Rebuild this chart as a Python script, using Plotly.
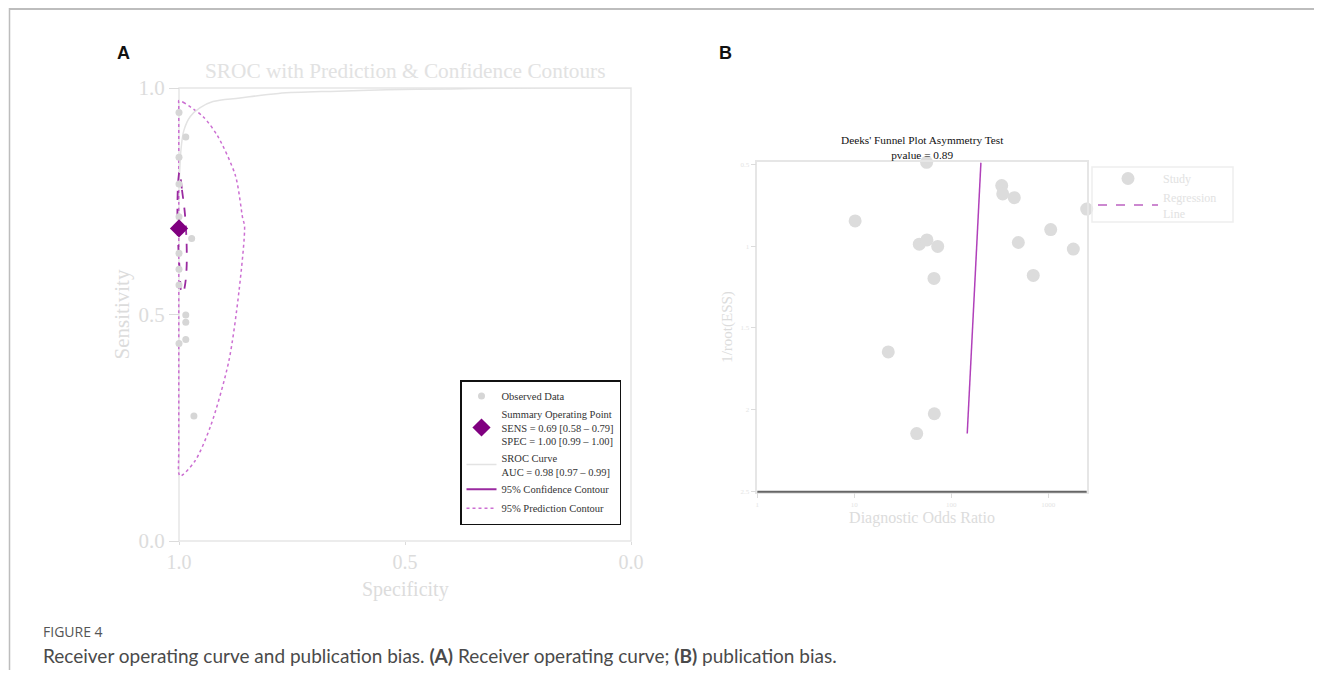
import plotly.graph_objects as go

# page body has an 8px margin: figure is sized to fit the window inside it
OFF = 8
W, H = 1322 - OFF, 683 - OFF

# ---------------- Panel A data ----------------
obs_spec = [1.0, 1.0, 1.0, 1.0, 1.0, 1.0, 1.0, 1.0, 0.985, 0.972, 0.985, 0.985, 0.985, 0.967]
obs_sens = [0.946, 0.847, 0.788, 0.716, 0.635, 0.600, 0.565, 0.436, 0.892, 0.668, 0.499, 0.483, 0.445, 0.276]

sum_spec = [1.00]
sum_sens = [0.69]

sroc_spec = [1.0, 0.998, 0.995, 0.989, 0.975, 0.954, 0.925, 0.865, 0.78, 0.65, 0.54, 0.40, 0.30, 0.15, 0.0]
sroc_sens = [0.78, 0.826, 0.87, 0.907, 0.937, 0.956, 0.970, 0.978, 0.988, 0.993, 0.996, 0.998, 0.9995, 1.0, 1.0]

conf_spec = [0.9989, 0.9934, 0.9867, 0.9830, 0.9834, 0.9867, 0.9912, 0.9956, 0.9978, 1.0011, 1.0033, 1.0033, 1.0015, 0.9989]
conf_sens = [0.815, 0.775, 0.720, 0.650, 0.598, 0.565, 0.547, 0.554, 0.587, 0.642, 0.698, 0.753, 0.797, 0.815]

pred_spec = [1.0005, 0.990, 0.946, 0.914, 0.875, 0.859, 0.855, 0.867, 0.890, 0.930, 0.965, 0.997,
             1.0005, 1.0005, 1.0005, 1.0005, 1.0005]
pred_sens = [0.972, 0.968, 0.936, 0.893, 0.806, 0.712, 0.696, 0.554, 0.396, 0.254, 0.176, 0.143,
             0.150, 0.200, 0.900, 0.965, 0.972]

a_ticks = [0.0, 0.5, 1.0]
a_ticktext = ["0.0", "0.5", "1.0"]

# ---------------- Panel B data ----------------
dor = [55.7, 331, 339, 446, 2488, 10.2, 1059, 46.8, 56.1, 72.4, 491, 1811, 66.3, 700, 22.4, 66.8, 44.0]
inv_ess = [0.488, 0.630, 0.681, 0.704, 0.774, 0.846, 0.899, 0.988, 0.962, 1.002, 0.978, 1.018, 1.197, 1.179, 1.646, 2.024, 2.145]

reg_dor = [146, 202]
reg_ess = [2.145, 0.49]

b_xticks = [1, 10, 100, 1000]
b_xticktext = ["1", "10", "100", "1000"]
b_yticks = [0.5, 1.0, 1.5, 2.0, 2.5]
b_yticktext = ["0.5", "1", "1.5", "2", "2.5"]


def px(x):
    return (x - OFF) / W


def py(y):
    return 1 - (y - OFF) / H


LIGHT = "#dcdcdc"
SERIF = "Liberation Serif"
FRAME = "#e6e6e6"

# panel A pixel box
AX0, AX1, AY0, AY1 = 179, 631, 88, 541
EXT = 8  # px of extra room left of the axis so contours are not clipped there

fig = go.Figure()

# Panel A traces
fig.add_trace(go.Scatter(x=pred_spec, y=pred_sens, mode="lines",
                         line=dict(color="#cc6fd2", width=1.5, dash="dot", shape="spline", smoothing=0.8),
                         showlegend=False, xaxis="x", yaxis="y", hoverinfo="skip"))
fig.add_trace(go.Scatter(x=sroc_spec, y=sroc_sens, mode="lines", line=dict(color="#e3e3e3", width=1.5, shape="spline"),
                         name="SROC Curve<br>AUC = 0.98 [0.97 – 0.99]", legendrank=3, legend="legend",
                         xaxis="x", yaxis="y"))
fig.add_trace(go.Scatter(x=conf_spec, y=conf_sens, mode="lines", line=dict(color="#9a2aa0", width=1.8, dash="dash", shape="spline"),
                         showlegend=False, xaxis="x", yaxis="y"))
fig.add_trace(go.Scatter(x=[None], y=[None], mode="lines", line=dict(color="#9a2aa0", width=1.8),
                         name="95% Confidence Contour", legendrank=4, legend="legend", xaxis="x", yaxis="y"))
fig.add_trace(go.Scatter(x=[None], y=[None], mode="lines", line=dict(color="#cc6fd2", width=1.5, dash="dot"),
                         name="95% Prediction Contour", legendrank=5, legend="legend", xaxis="x", yaxis="y"))
fig.add_trace(go.Scatter(x=obs_spec, y=obs_sens, mode="markers", marker=dict(color="#d6d6d6", size=7),
                         name="Observed Data", legendrank=1, legend="legend", cliponaxis=False,
                         xaxis="x", yaxis="y"))
fig.add_trace(go.Scatter(x=sum_spec, y=sum_sens, mode="markers", marker=dict(color="#800080", size=14, symbol="diamond"),
                         name="Summary Operating Point<br>SENS = 0.69 [0.58 – 0.79]<br>SPEC = 1.00 [0.99 – 1.00]",
                         legendrank=2, legend="legend", cliponaxis=False, xaxis="x", yaxis="y"))

# Panel B traces
fig.add_trace(go.Scatter(x=dor, y=inv_ess, mode="markers", marker=dict(color="#dcdcdc", size=13),
                         name="Study", legend="legend2", legendrank=1, cliponaxis=False, xaxis="x2", yaxis="y2"))
fig.add_trace(go.Scatter(x=reg_dor, y=reg_ess, mode="lines", line=dict(color="#b040ba", width=1.5),
                         showlegend=False, xaxis="x2", yaxis="y2"))
fig.add_trace(go.Scatter(x=[None], y=[None], mode="lines", line=dict(color="#cc88d0", width=2, dash="dash"),
                         name="Regression<br>Line", legend="legend2", legendrank=2, xaxis="x2", yaxis="y2"))

tick_common = dict(showgrid=False, zeroline=False, ticks="outside", tickcolor="#dcdcdc", automargin=False)
axis_common = dict(showline=True, mirror=True, linecolor=FRAME, linewidth=1.5, **tick_common)

fig.update_layout(
    width=W, height=H, margin=dict(l=0, r=0, t=0, b=0, autoexpand=False), paper_bgcolor="white", plot_bgcolor="white",
    xaxis=dict(domain=[px(AX0 - EXT), px(AX1)], range=[1 + EXT / (AX1 - AX0), 0], tickvals=a_ticks,
               ticktext=a_ticktext, ticklen=3, showline=False,
               tickfont=dict(family=SERIF, size=20, color=LIGHT), anchor="y",
               **tick_common),
    yaxis=dict(domain=[py(AY1), py(AY0)], range=[0, 1], tickvals=a_ticks, ticktext=a_ticktext, ticklen=10,
               showline=False, anchor="free", position=px(AX0),
               tickfont=dict(family=SERIF, size=21, color=LIGHT),
               title=dict(text="Sensitivity", font=dict(family=SERIF, size=21, color=LIGHT), standoff=2),
               **tick_common),
    xaxis2=dict(domain=[px(757.3), px(1086.7)], type="log", range=[0, 3.396], tickvals=b_xticks, ticktext=b_xticktext,
                ticklen=5, tickfont=dict(family=SERIF, size=7, color="#e4e4e4"), anchor="y2",
                title=dict(text="Diagnostic Odds Ratio", font=dict(family=SERIF, size=16, color=LIGHT), standoff=2),
                **axis_common),
    yaxis2=dict(domain=[py(491.7), py(162.3)], range=[2.5, 0.488], tickvals=b_yticks, ticktext=b_yticktext,
                ticklen=5, tickfont=dict(family=SERIF, size=7, color="#e4e4e4"), anchor="x2",
                title=dict(text="1/root(ESS)", font=dict(family=SERIF, size=15, color=LIGHT), standoff=4),
                **axis_common),
    legend=dict(x=px(460), y=py(380), xanchor="left", yanchor="top", bgcolor="white", bordercolor="#111",
                borderwidth=1.5, font=dict(family=SERIF, size=10.5, color="#333"), tracegroupgap=10,
                itemwidth=30, traceorder="normal"),
    legend2=dict(x=px(1093), y=py(164), xanchor="left", yanchor="top", bgcolor="rgba(0,0,0,0)",
                 borderwidth=0, font=dict(family=SERIF, size=12, color="#e2e2e2"), itemwidth=60,
                 tracegroupgap=0),
    showlegend=True,
)

# frame of panel A
fig.add_shape(type="rect", xref="paper", yref="paper", x0=px(AX0), x1=px(AX1), y0=py(AY1), y1=py(AY0),
              line=dict(color=FRAME, width=1.5), layer="below")

# legend box of panel B
fig.add_shape(type="rect", xref="paper", yref="paper", x0=px(1092), x1=px(1233), y0=py(222), y1=py(167),
              line=dict(color="#eeeeee", width=1.5))

# bottom dark axis line for panel B
fig.add_shape(type="line", xref="x2 domain", yref="y2 domain", x0=0, x1=1, y0=0, y1=0,
              line=dict(color="#666666", width=2))

# frame lines around figure
fig.add_shape(type="line", xref="paper", yref="paper", x0=px(9), x1=1.01, y0=py(9), y1=py(9),
              line=dict(color="#bdbdbd", width=2))
fig.add_shape(type="line", xref="paper", yref="paper", x0=px(9.5), x1=px(9.5), y0=py(8), y1=py(670),
              line=dict(color="#bdbdbd", width=1.5))

ann = [
    dict(text="<b>A</b>", x=px(123), y=py(53), font=dict(family="Liberation Sans", size=18, color="#111")),
    dict(text="<b>B</b>", x=px(725), y=py(53), font=dict(family="Liberation Sans", size=18, color="#111")),
    dict(text="SROC with Prediction & Confidence Contours", x=px(405), y=py(71),
         font=dict(family=SERIF, size=21.3, color="#e2e2e2")),
    dict(text="Specificity", x=px(405), y=py(589),
         font=dict(family=SERIF, size=20, color=LIGHT)),
    dict(text="Deeks' Funnel Plot Asymmetry Test<br>pvalue = 0.89", x=px(922), y=py(148),
         font=dict(family=SERIF, size=11.3, color="#111")),
]
for a in ann:
    fig.add_annotation(xref="paper", yref="paper", showarrow=False, xanchor="center", yanchor="middle", **a)

fig.add_annotation(xref="paper", yref="paper", showarrow=False, xanchor="left", yanchor="middle",
                   x=px(41), y=py(631), text="FIGURE 4", font=dict(family="Open Sans", size=14, color="#555"))
fig.add_annotation(xref="paper", yref="paper", showarrow=False, xanchor="left", yanchor="middle",
                   x=px(41), y=py(655),
                   text="Receiver operating curve and publication bias. <b>(A)</b> Receiver operating curve; <b>(B)</b> publication bias.",
                   font=dict(family="Lato", size=19, color="#4a4a4a"))

fig.write_html("out.html")
